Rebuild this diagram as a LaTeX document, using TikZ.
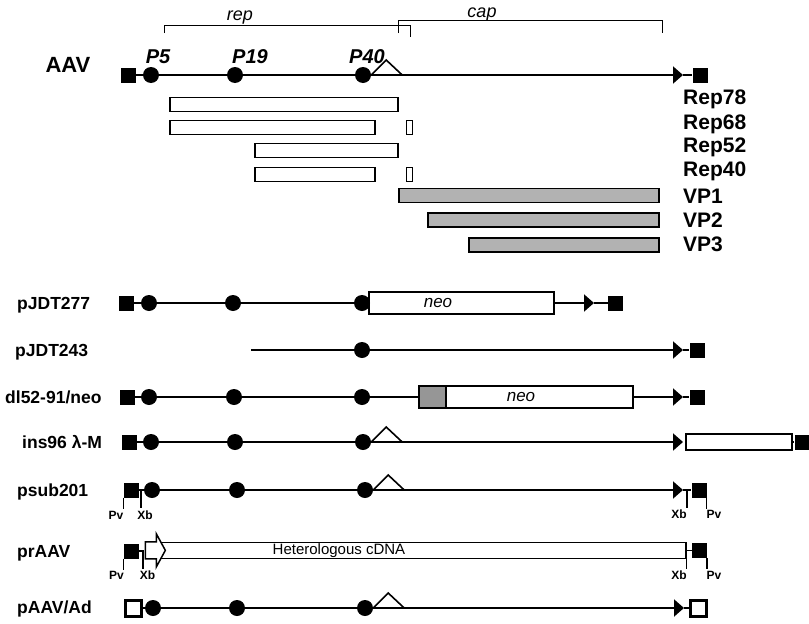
\documentclass[tikz,border=0pt]{standalone}
\usepackage{fontspec}
\setmainfont{Liberation Sans}
\usepackage{tikz}
\usetikzlibrary{arrows.meta,calc}
\definecolor{vpgray}{RGB}{178,178,178}
\definecolor{boxgray}{RGB}{150,150,150}
\tikzset{
  ln/.style      ={line width=2pt, draw=black},
  splice/.style  ={line width=1.6pt, draw=black},
  itr/.style     ={fill=black, inner sep=0pt, minimum size=15pt},
  oitr/.style    ={draw=black, fill=white, line width=3pt, inner sep=0pt, minimum size=16pt},
  prom/.style    ={circle, fill=black, inner sep=0pt, minimum size=16pt},
  bar/.style     ={draw=black, fill=white, line width=1.3pt, inner sep=0pt, minimum height=14pt},
  vpbar/.style   ={bar, fill=vpgray},
  gene/.style    ={draw=black, fill=white, line width=1.3pt, inner sep=0pt, minimum height=22pt},
  endtip/.style  ={-{Triangle[length=10pt,width=17pt]}},
  cut/.style     ={line width=1.5pt, draw=black},
  brk/.style     ={line width=1pt, draw=black},
  plasname/.style={font=\bfseries\fontsize{17.5}{17.5}\selectfont, anchor=base west, inner sep=0pt},
  plab/.style    ={font=\bfseries\itshape\fontsize{20}{20}\selectfont, inner sep=0pt},
  prot/.style    ={font=\bfseries\fontsize{21}{21}\selectfont, anchor=base west, inner sep=0pt},
  site/.style    ={font=\bfseries\fontsize{12}{12}\selectfont, inner sep=0pt},
  gtxt/.style    ={font=\itshape\fontsize{17}{17}\selectfont, inner sep=0pt},
  region/.style  ={font=\itshape\fontsize{18}{18}\selectfont, anchor=base, inner sep=0pt},
}

\begin{document}
\begin{tikzpicture}[x=1pt,y=-1pt]
\useasboundingbox (0,0) rectangle (809,624);

% AAV genome
\node[plasname, font=\bfseries\fontsize{22}{22}\selectfont, anchor=center] (aav) at (68,65) {AAV};
\node[itr] (aL) at (128,75) {};
\node[prom] (a5) at (151,75) {};
\node[prom] (a19) at (235,75) {};
\node[prom] (a40) at (363,75) {};
\coordinate (aT) at (683,75);
\node[itr] (aR) at (700,75) {};
\draw[ln,endtip] (aL) -- (a5) -- (a19) -- (a40) -- (aT);
\draw[ln] (aT) -- (aR);
\draw[splice] (a40.east) -- ++(15,-15) -- ++(16,15);
\node[plab] (l5) at (158,57) {P5};
\node[plab] (l19) at (250,57) {P19};
\node[plab] (l40) at (367,57) {P40};
\draw[brk] (164,33) |- (410,25) -- (410,37);
\draw[brk] (398,33) |- (662,20) -- (662,33);
\node[region] (rep) at (240,20) {rep};
\node[region] (cap) at (482,17) {cap};

% proteins
\node[bar, minimum width=228pt] (r78) at (284,104.5) {};
\node[bar, minimum width=205pt] (r68) at (272.5,127.5) {};
\node[bar, minimum width=6pt] (r68b) at (409.5,127.5) {};
\node[bar, minimum width=143pt] (r52) at (326.5,150.5) {};
\node[bar, minimum width=120pt] (r40) at (315,174.5) {};
\node[bar, minimum width=6pt] (r40b) at (409.5,174.5) {};
\node[vpbar, minimum width=260pt] (vp1) at (529,195.5) {};
\node[vpbar, minimum width=231pt] (vp2) at (543.5,220) {};
\node[vpbar, minimum width=190pt] (vp3) at (564,245) {};
\node[prot] (t78) at (683,104) {Rep78};
\node[prot] (t68) at (683,129) {Rep68};
\node[prot] (t52) at (683,152.5) {Rep52};
\node[prot] (t40) at (683,176.5) {Rep40};
\node[prot] (tv1) at (683,203) {VP1};
\node[prot] (tv2) at (683,227.5) {VP2};
\node[prot] (tv3) at (683,251.5) {VP3};

% pJDT277
\node[plasname] (n1) at (17,309) {pJDT277};
\node[gene, minimum width=185pt] (b6) at (461.5,303) {};
\node[gtxt] (b6t) at (438,303) {neo};
\node[itr] (b0) at (126,303) {};
\node[prom] (b5) at (149,303) {};
\node[prom] (b19) at (233,303) {};
\node[prom] (b40) at (362,303) {};
\coordinate (bT) at (594,303);
\node[itr] (bR) at (615.5,303) {};
\draw[ln] (b0) -- (b5) -- (b19) -- (b40);
\draw[ln,endtip] (b6.east) -- (bT);
\draw[ln] (bT) -- (bR);

% pJDT243
\node[plasname] (n2) at (15,356) {pJDT243};
\coordinate (cS) at (251,350);
\node[prom] (c40) at (362,350) {};
\coordinate (cT) at (683,350);
\node[itr] (cR) at (697,350) {};
\draw[ln] (cS) -- (c40);
\draw[ln,endtip] (c40) -- (cT);
\draw[ln] (cT) -- (cR);

% dl52-91/neo
\node[plasname] (n3) at (5,403) {dl52-91/neo};
\node[itr] (d0) at (127,397) {};
\node[prom] (d5) at (149,397) {};
\node[prom] (d19) at (234,397) {};
\node[prom] (d40) at (362,397) {};
\node[gene, fill=boxgray, line width=2pt, minimum width=27pt] (dG) at (432,397) {};
\node[gene, minimum width=187pt] (dN) at (539.5,397) {};
\node[gtxt] (dNt) at (521,397) {neo};
\coordinate (dT) at (683,397);
\node[itr] (dR) at (697,397) {};
\draw[ln] (d0) -- (d5) -- (d19) -- (d40) -- (dG);
\draw[ln,endtip] (dN) -- (dT);
\draw[ln] (dT) -- (dR);

% ins96 lambda-M
\node[plasname] (n4) at (22,448) {ins96 λ-M};
\node[itr] (e0) at (129,442) {};
\node[prom] (e5) at (151,442) {};
\node[prom] (e19) at (235,442) {};
\node[prom] (e40) at (363,442) {};
\coordinate (eT) at (683,442);
\node[bar, minimum width=106pt, minimum height=16pt] (eB) at (739,442) {};
\node[itr] (eR) at (802,442) {};
\draw[ln,endtip] (e0) -- (e5) -- (e19) -- (e40) -- (eT);
\draw[ln] (eB) -- (eR);
\draw[splice] (e40.east) -- ++(15,-15) -- ++(16,15);

% psub201
\node[plasname] (n5) at (17,496) {psub201};
\node[itr] (f0) at (131,490) {};
\coordinate (fX) at (141,490);
\node[prom] (f5) at (152,490) {};
\node[prom] (f19) at (237,490) {};
\node[prom] (f40) at (365,490) {};
\coordinate (fT) at (683,490);
\coordinate (fY) at (687,490);
\node[itr] (fR) at (699,490) {};
\draw[ln,endtip] (f0) -- (f5) -- (f19) -- (f40) -- (fT);
\draw[ln] (fT) -- (fR);
\draw[splice] (f40.east) -- ++(15,-15) -- ++(16,15);
\draw[cut] (f0.south west) -- ++(0,11);
\draw[cut] (fX) -- ++(0,18);
\draw[cut] (fY) -- ++(0,18);
\draw[cut] (fR.south east) -- ++(0,11);
\node[site] (fPv) at (116,515) {Pv};
\node[site] (fXb) at (145,515) {Xb};
\node[site] (fXb2) at (679,514) {Xb};
\node[site] (fPv2) at (714,514) {Pv};

% prAAV
\node[plasname] (n6) at (17,557) {prAAV};
\node[itr] (g0) at (131,551) {};
\coordinate (gX) at (143,551);
\node[gene, minimum width=540pt, minimum height=16pt] (gB) at (416,550.5) {};
\node[font=\fontsize{15}{15}\selectfont, inner sep=0pt] (gBt) at (339,551) {Heterologous cDNA};
\draw[cut, fill=white] (gB.north west) -- ++(11,0) -- ++(0,-8) -- ++(9,16.5) -- ++(-9,16.5)
  -- ++(0,-8) -- ++(-11,0) -- cycle;
\node[itr] (gR) at (699.5,550.5) {};
\draw[cut] (g0.east) -- (gX) -- ++(0,18);
\draw[cut] (g0.south west) -- ++(0,11);
\draw[cut] (gB.east) -- (gR);
\draw[cut] (gB.south east) -- ++(0,10);
\draw[cut] (gR.south east) -- ++(0,11);
\node[site] (gPv) at (116.5,575) {Pv};
\node[site] (gXb) at (147.5,575) {Xb};
\node[site] (gXb2) at (679,575) {Xb};
\node[site] (gPv2) at (714,575) {Pv};

% pAAV/Ad
\node[plasname] (n7) at (17,613.5) {pAAV/Ad};
\node[oitr] (h0) at (133,608) {};
\node[prom] (h5) at (153,608) {};
\node[prom] (h19) at (237,608) {};
\node[prom] (h40) at (365,608) {};
\coordinate (hT) at (684,608);
\node[oitr] (hR) at (698.5,608) {};
\draw[ln,endtip] (h0) -- (h5) -- (h19) -- (h40) -- (hT);
\draw[ln] (hT) -- (hR);
\draw[splice] (h40.east) -- ++(15,-15) -- ++(16,15);
\end{tikzpicture}
\end{document}
